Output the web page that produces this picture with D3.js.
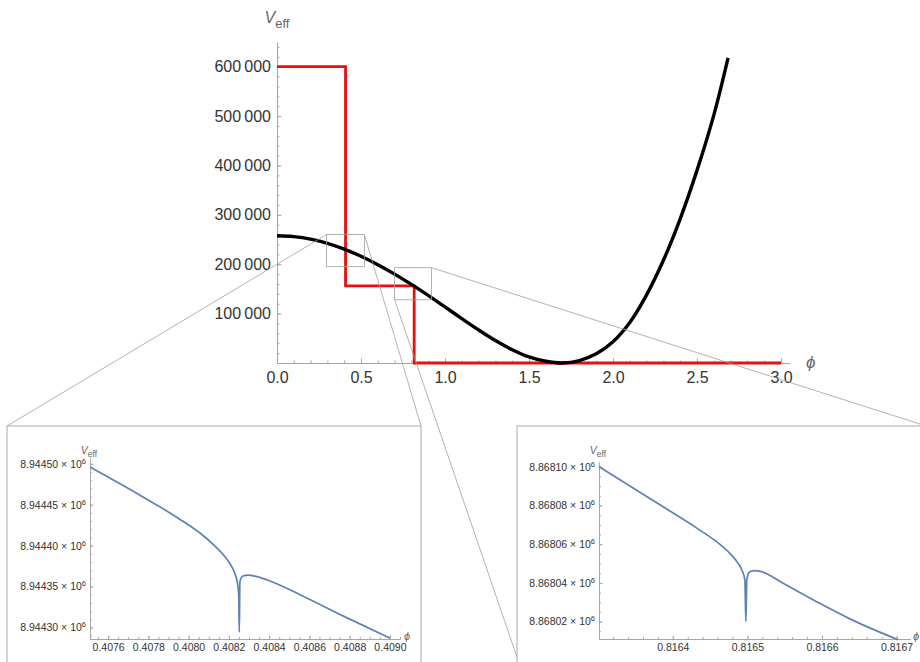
<!DOCTYPE html>
<html lang="en">
  <head>
    <meta charset="utf-8" />
    <title>V_eff</title>
    <script
      type="text/javascript"
      src="https://cdnjs.cloudflare.com/ajax/libs/d3/7.8.5/d3.min.js"
    ></script>
    <style>
      body {
        margin: 0;
        background: #fff;
      }
      svg text {
        font-family: "Liberation Sans", Arial, sans-serif;
      }
      .axis path,
      .axis line {
        stroke: #a6a6a6;
        stroke-width: 1;
      }
      .axis text {
        fill: #333;
      }
      .zoomline {
        stroke: #a0a0a0;
        stroke-width: 0.8;
        fill: none;
      }
      .lbl {
        fill: #666;
      }
    </style>
  </head>
  <body>
    <svg id="chart" width="920" height="662"></svg>
    <script type="text/javascript">
      // main curve V_eff(phi)
      const phi = [0, 0.1, 0.2, 0.3, 0.4, 0.5, 0.6, 0.7, 0.8, 0.9, 1.0, 1.1,
        1.2, 1.3, 1.4, 1.5, 1.6, 1.7, 1.8, 1.9, 2.0, 2.1, 2.2, 2.3, 2.4, 2.5,
        2.6, 2.685];
      const veff = [257700, 256000, 251000, 242400, 230600, 216000, 199000,
        180000, 159200, 137000, 113500, 90000, 67000, 45500, 27000, 12500,
        3500, 0, 4800, 18500, 43000, 82000, 138000, 208000, 292000, 390000,
        502000, 618000];

      // red step
      const stepPhi = [0, 0.408, 0.408, 0.8165, 0.8165, 3.0];
      const stepV = [600000, 600000, 156000, 156000, 0, 0];

      // zoom boxes on the main plot [phi0, phi1, v0, v1]
      const box1 = [0.295, 0.52, 195000, 260000];
      const box2 = [0.7, 0.92, 128000, 193000];

      const xTicks = [0, 0.5, 1.0, 1.5, 2.0, 2.5, 3.0];
      const yTicks = [100000, 200000, 300000, 400000, 500000, 600000];

      // inset 1 (around phi = 0.408)
      const in1Phi = [0.40751, 0.4077584, 0.4078577, 0.407952, 0.4080565,
        0.408131, 0.4081806, 0.4082104, 0.4082303, 0.4082427, 0.4082487,
        0.4082517, 0.4082547, 0.4082601, 0.4082726, 0.4082949, 0.4083297,
        0.4083878, 0.4085532, 0.4087768, 0.409];
      const in1V = [8944496, 8944461.6, 8944447.3, 8944432.9, 8944415.4,
        8944399.4, 8944386.5, 8944376, 8944365.6, 8944353.8, 8944340.2,
        8944294.5, 8944355.7, 8944360.2, 8944363.2, 8944363.9, 8944362.7,
        8944358.3, 8944340.1, 8944313, 8944287];
      const in1XTicks = [0.4076, 0.4078, 0.408, 0.4082, 0.4084, 0.4086,
        0.4088, 0.409];
      const in1YTicks = [8944300, 8944350, 8944400, 8944450, 8944500];

      // inset 2 (around phi = 0.8165)
      const in2Phi = [0.8163012, 0.8163692, 0.8164362, 0.8164586, 0.8164764,
        0.8164876, 0.8164935, 0.8164966, 0.8164979, 0.8164992, 0.8165005,
        0.8165033, 0.81651, 0.816519, 0.8165479, 0.8165927, 0.8166374,
        0.8167021];
      const in2V = [8868100, 8868083.6, 8868067.3, 8868061.3, 8868055.3,
        8868050.1, 8868045.8, 8868041.5, 8868020, 8868041.5, 8868044,
        8868045.8, 8868046.3, 8868045.8, 8868039.8, 8868030.3, 8868021.4,
        8868010.6];
      const in2XTicks = [0.8164, 0.8165, 0.8166, 0.8167];
      const in2YTicks = [8868020, 8868040, 8868060, 8868080, 8868100];

      const svg = d3.select("#chart");

      //scales for main plot
      const x = d3.scaleLinear().domain([0, 3.05]).range([277, 789.4]);
      const y = d3.scaleLinear().domain([0, 650000]).range([363, 42]);

      // minor ticks
      svg
        .append("g")
        .attr("class", "axis")
        .attr("transform", "translate(0,363)")
        .call(
          d3
            .axisBottom(x)
            .tickValues(d3.range(0, 31).map((i) => i / 10))
            .tickSize(-2.5)
            .tickSizeOuter(0)
            .tickFormat("")
        );
      svg
        .append("g")
        .attr("class", "axis")
        .attr("transform", "translate(277,0)")
        .call(
          d3
            .axisLeft(y)
            .tickValues(d3.range(1, 33).map((i) => i * 20000))
            .tickSize(-2.5)
            .tickSizeOuter(0)
            .tickFormat("")
        );

      // major ticks + labels
      svg
        .append("g")
        .attr("class", "axis")
        .attr("transform", "translate(0,363)")
        .call(
          d3
            .axisBottom(x)
            .tickValues(xTicks)
            .tickSize(-4.5)
            .tickSizeOuter(0)
            .tickPadding(9)
            .tickFormat(d3.format(".1f"))
        )
        .selectAll("text")
        .style("font-size", "16px");
      svg
        .append("g")
        .attr("class", "axis")
        .attr("transform", "translate(277,0)")
        .call(
          d3
            .axisLeft(y)
            .tickValues(yTicks)
            .tickSize(-4.5)
            .tickSizeOuter(0)
            .tickPadding(6)
            .tickFormat((d) => d3.format(",")(d).replace(",", "\u2009"))
        )
        .selectAll("text")
        .style("font-size", "16px");

      // axis labels
      let vl = svg
        .append("text")
        .attr("class", "lbl")
        .attr("x", 277)
        .attr("y", 23)
        .attr("text-anchor", "middle");
      vl.append("tspan").text("V").style("font-style", "italic").style("font-size", "16px");
      vl.append("tspan").text("eff").attr("dy", 5).style("font-size", "13px");
      svg
        .append("text")
        .attr("class", "lbl")
        .attr("x", 806)
        .attr("y", 368)
        .style("font-style", "italic")
        .style("font-size", "17px")
        .text("\u03d5");

      // curves
      const line = d3
        .line()
        .x((d) => x(d[0]))
        .y((d) => y(d[1]));
      svg
        .append("path")
        .attr("d", line(stepPhi.map((p, i) => [p, stepV[i]])))
        .attr("fill", "none")
        .attr("stroke", "#e5110f")
        .attr("stroke-width", 2.8);
      svg
        .append("path")
        .attr("d", line.curve(d3.curveCatmullRom.alpha(0.5))(phi.map((p, i) => [p, veff[i]])))
        .attr("fill", "none")
        .attr("stroke", "#000")
        .attr("stroke-width", 3.4);

      // zoom boxes
      [box1, box2].map((b) => {
        svg
          .append("rect")
          .attr("class", "zoomline")
          .attr("x", x(b[0]))
          .attr("y", y(b[3]))
          .attr("width", x(b[1]) - x(b[0]))
          .attr("height", y(b[2]) - y(b[3]));
      });

      // inset frames
      const frame1 = { x: 7, y: 426, w: 414, h: 300 };
      const frame2 = { x: 517, y: 426, w: 420, h: 300 };

      // connector lines box corners -> inset corners
      const conn = [
        [x(box1[0]), y(box1[3]), frame1.x, frame1.y],
        [x(box1[1]), y(box1[3]), frame1.x + frame1.w, frame1.y],
        [x(box2[0]), y(box2[2]), frame2.x + 3, 666],
        [x(box2[1]), y(box2[3]), frame2.x + 409, frame2.y],
      ];
      conn.map((c) => {
        svg
          .append("line")
          .attr("class", "zoomline")
          .attr("x1", c[0])
          .attr("y1", c[1])
          .attr("x2", c[2])
          .attr("y2", c[3]);
      });

      function drawInset(fr, xs, ys, px, pv, xt, xMinorStep, yt, yMinorStep, labX) {
        const g = svg.append("g");
        g.append("rect")
          .attr("x", fr.x)
          .attr("y", fr.y)
          .attr("width", fr.w)
          .attr("height", fr.h)
          .attr("fill", "#fff")
          .attr("stroke", "#aaa")
          .attr("stroke-width", 1);

        const x0 = xs.range()[0];
        const y0 = ys.range()[0];
        const xd = xs.domain();
        const yd = ys.domain();

        // minor ticks
        const xm = d3
          .range(Math.ceil(xd[0] / xMinorStep), Math.floor(xd[1] / xMinorStep) + 1)
          .map((i) => i * xMinorStep);
        const ym = d3
          .range(Math.ceil(yd[0] / yMinorStep), Math.floor(yd[1] / yMinorStep) + 1)
          .map((i) => i * yMinorStep);
        g.append("g")
          .attr("class", "axis")
          .attr("transform", `translate(0,${y0})`)
          .call(d3.axisBottom(xs).tickValues(xm).tickSize(-2).tickSizeOuter(0).tickFormat(""));
        g.append("g")
          .attr("class", "axis")
          .attr("transform", `translate(${x0},0)`)
          .call(d3.axisLeft(ys).tickValues(ym).tickSize(-2).tickSizeOuter(0).tickFormat(""));

        // major
        g.append("g")
          .attr("class", "axis")
          .attr("transform", `translate(0,${y0})`)
          .call(
            d3
              .axisBottom(xs)
              .tickValues(xt)
              .tickSize(-3.5)
              .tickSizeOuter(0)
              .tickPadding(5)
              .tickFormat(d3.format(".4f"))
          )
          .selectAll("text")
          .style("font-size", "10.5px");
        const ya = g
          .append("g")
          .attr("class", "axis")
          .attr("transform", `translate(${x0},0)`)
          .call(
            d3
              .axisLeft(ys)
              .tickValues(yt)
              .tickSize(-3.5)
              .tickSizeOuter(0)
              .tickPadding(4)
          );
        ya.selectAll(".tick text").each(function (d) {
          const t = d3.select(this).text(null).style("font-size", "10.5px");
          t.append("tspan").text((d / 1e6).toFixed(5) + " \u00d7 10");
          t.append("tspan").text("6").attr("dy", -4).style("font-size", "7.5px");
        });

        // the curve
        const ln = d3
          .line()
          .x((d) => xs(d[0]))
          .y((d) => ys(d[1]))
          .curve(d3.curveMonotoneX);
        g.append("path")
          .attr("d", ln(px.map((p, i) => [p, pv[i]])))
          .attr("fill", "none")
          .attr("stroke", "#5e81b5")
          .attr("stroke-width", 1.7);

        // labels
        const vt = g
          .append("text")
          .attr("class", "lbl")
          .attr("x", x0 - 1)
          .attr("y", 454)
          .attr("text-anchor", "middle");
        vt.append("tspan").text("V").style("font-style", "italic").style("font-size", "10.5px");
        vt.append("tspan").text("eff").attr("dy", 3).style("font-size", "8.5px");
        g.append("text")
          .attr("class", "lbl")
          .attr("x", labX)
          .attr("y", 640)
          .style("font-style", "italic")
          .style("font-size", "11px")
          .text("\u03d5");
      }

      const ix1 = d3.scaleLinear().domain([0.40751, 0.40905]).range([90, 400]);
      const iy1 = d3.scaleLinear().domain([8944286, 8944507]).range([639, 458]);
      drawInset(frame1, ix1, iy1, in1Phi, in1V, in1XTicks, 0.00005, in1YTicks, 10, 404);

      const ix2 = d3.scaleLinear().domain([0.816301, 0.816718]).range([599, 910]);
      const iy2 = d3.scaleLinear().domain([8868011, 8868102.5]).range([639, 462]);
      drawInset(frame2, ix2, iy2, in2Phi, in2V, in2XTicks, 0.00002, in2YTicks, 5, 913);
    </script>
  </body>
</html>
